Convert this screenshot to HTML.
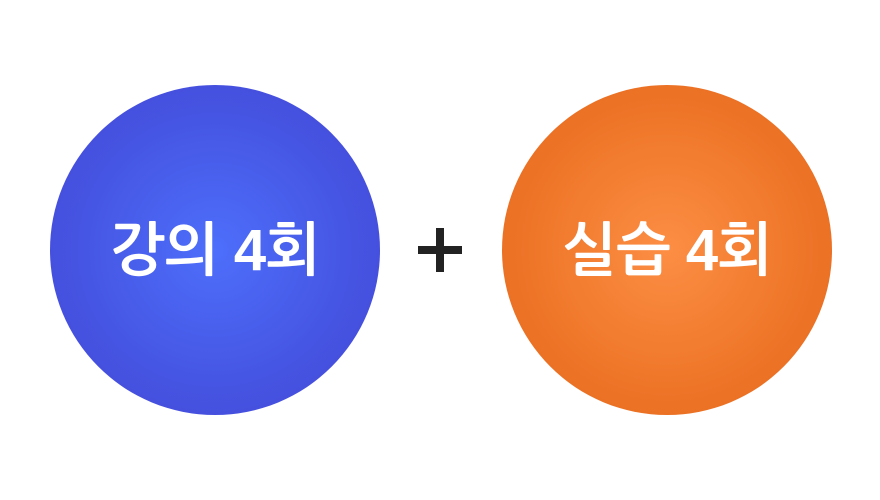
<!DOCTYPE html>
<html><head><meta charset="utf-8"><style>
html,body{margin:0;padding:0;background:#fff;}
body{width:880px;height:500px;position:relative;overflow:hidden;font-family:"Liberation Sans","NanumGothic","Noto Sans CJK KR",sans-serif;}
.c{position:absolute;width:330px;height:330px;border-radius:50%;display:flex;align-items:center;justify-content:center;color:#fff;font-weight:bold;font-size:58px;letter-spacing:-0.5px;}
.l{left:50px;top:85px;background:radial-gradient(circle at 50% 50%,#4d6ffb 0%,#4656e4 55%,#4345d4 100%);}
.r{left:502px;top:85px;background:radial-gradient(circle at 50% 50%,#fc8e44 0%,#ef772a 55%,#e4661a 100%);}
.p{position:absolute;background:#222;}
</style></head><body>
<div class="c l">강의 4회</div>
<div class="p" style="left:418px;top:246px;width:44px;height:8px;"></div>
<div class="p" style="left:436px;top:228px;width:8px;height:44px;"></div>
<div class="c r">실습 4회</div>
</body></html>
